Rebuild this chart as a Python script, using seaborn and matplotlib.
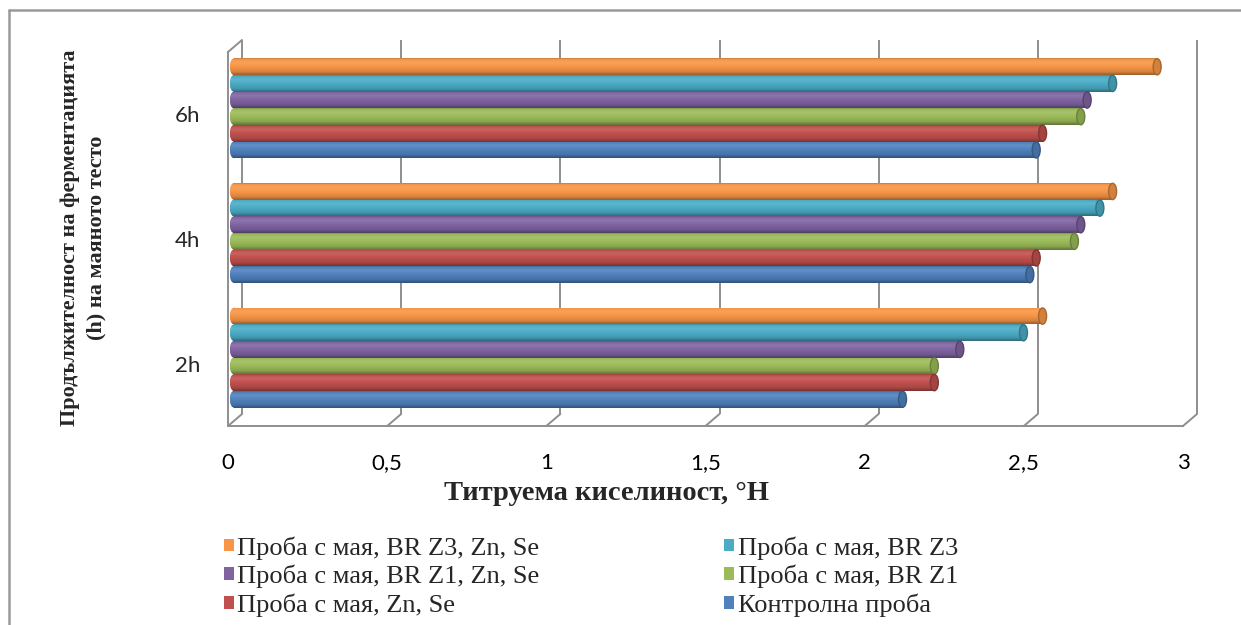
import numpy as np
import pandas as pd
import matplotlib
matplotlib.use("Agg")
import matplotlib.pyplot as plt
import matplotlib.transforms as mtransforms
from matplotlib.patches import Ellipse, Rectangle
from matplotlib.lines import Line2D
from matplotlib.ticker import FuncFormatter
from matplotlib.colors import to_rgb
import seaborn as sns

# ---- data -------------------------------------------------------------
durations = ["6h", "4h", "2h"]
series = [
    "Проба с мая, BR Z3, Zn, Se",
    "Проба с мая, BR Z3",
    "Проба с мая, BR Z1, Zn, Se",
    "Проба с мая, BR Z1",
    "Проба с мая, Zn, Se",
    "Контролна проба",
]
colors = ["#F79646", "#4BACC6", "#8064A2", "#9BBB59", "#C0504D", "#4F81BD"]
acidity_6h = [2.90, 2.76, 2.68, 2.66, 2.54, 2.52]
acidity_4h = [2.76, 2.72, 2.66, 2.64, 2.52, 2.50]
acidity_2h = [2.54, 2.48, 2.28, 2.20, 2.20, 2.10]
x_ticks = [0, 0.5, 1, 1.5, 2, 2.5, 3]

x_title = "Титруема киселиност, °Н"
y_title = "Продължителност на ферментацията\n(h) на маяното тесто"

df = pd.DataFrame({
    "duration": np.repeat(durations, len(series)),
    "series": series * len(durations),
    "acidity": acidity_6h + acidity_4h + acidity_2h,
})

# ---- figure -----------------------------------------------------------
sns.set_style("white")
plt.rcParams["font.family"] = ["Lato", "DejaVu Sans"]

W, H, DPI = 1241, 625, 100
fig = plt.figure(figsize=(W / DPI, H / DPI), dpi=DPI)
fig.patch.set_facecolor("white")

# front plane of the pseudo-3D plot box (pixels)
left_px, right_px, top_px, bottom_px = 228, 1183, 52, 426
ax = fig.add_axes([left_px / W, 1 - bottom_px / H,
                   (right_px - left_px) / W, (bottom_px - top_px) / H])
ax.set_facecolor("none")

sns.barplot(data=df, y="duration", x="acidity", hue="series",
            order=durations, hue_order=series, palette=colors,
            orient="h", width=0.8, legend=False, ax=ax,
            errorbar=None, saturation=1)

ax.set_xlim(0, 3)
ax.set_ylim(2.5, -0.5)

grid_c = "#8e8e8e"
lw_axis = 1.4
px_x = (right_px - left_px) / 3.0   # pixels per acidity unit
px_y = (bottom_px - top_px) / 3.0   # pixels per category

# depth offsets (pixels): bars sit mid-depth, walls at the back
bar_dx, bar_dy = 6, 6
wall_dx, wall_dy = 14, 12
bar_off = ax.transData + mtransforms.ScaledTranslation(bar_dx / DPI, bar_dy / DPI, fig.dpi_scale_trans)
wall_off = ax.transData + mtransforms.ScaledTranslation(wall_dx / DPI, wall_dy / DPI, fig.dpi_scale_trans)

# ---- back wall gridlines and floor edges -------------------------------
wdx, wdy = wall_dx / px_x, wall_dy / px_y
for v in x_ticks:
    ax.plot([v, v], [2.5, -0.5], transform=wall_off, color=grid_c, lw=lw_axis,
            clip_on=False, zorder=0.5, solid_capstyle="butt")
    ax.plot([v, v + wdx], [2.5, 2.5 - wdy], color=grid_c, lw=lw_axis,
            clip_on=False, zorder=0.5)
ax.plot([0, wdx], [-0.5, -0.5 - wdy], color=grid_c, lw=lw_axis, clip_on=False, zorder=0.5)


# ---- cylinder shading ---------------------------------------------------
def shade_column(rgb, n=64):
    t = np.linspace(0, 1, n)
    # brightness profile across a cylinder lit from above
    k = np.interp(t, [0, 0.07, 0.25, 0.5, 0.8, 1.0],
                  [0.80, 1.0, 1.07, 1.0, 0.88, 0.62])
    rgb = np.array(rgb)
    out = np.empty((n, 1, 3))
    for i, kk in enumerate(k):
        if kk >= 1:
            out[i, 0] = rgb + (1 - rgb) * (kk - 1) * 1.6
        else:
            out[i, 0] = rgb * kk
    return np.clip(out, 0, 1)


cap_w = 8 / px_x
for container, col in zip(ax.containers, colors):
    rgb = to_rgb(col)
    grad = shade_column(rgb)
    for bar in container:
        x0, y0 = bar.get_x(), bar.get_y()
        w, h = bar.get_width(), bar.get_height()
        bar.set_transform(bar_off)
        bar.set_clip_on(False)
        bar.set_edgecolor("none")
        bar.set_zorder(2)
        im = ax.imshow(grad, extent=(x0, x0 + w, y0 + h, y0), origin="upper",
                       aspect="auto", transform=bar_off, zorder=2.1,
                       interpolation="bilinear")
        im.set_clip_path(bar)
        # rounded left end
        lcap = Ellipse((x0, y0 + h / 2), cap_w, h, transform=bar_off,
                       facecolor=col, edgecolor="none", zorder=1.9, clip_on=False)
        ax.add_patch(lcap)
        iml = ax.imshow(grad, extent=(x0 - cap_w, x0 + cap_w, y0 + h, y0),
                        origin="upper", aspect="auto", transform=bar_off,
                        zorder=1.95, interpolation="bilinear")
        iml.set_clip_path(lcap)
        # end face at the bar's value
        dark = tuple(c * 0.68 for c in rgb)
        face = tuple(c * 0.85 for c in rgb)
        rcap = Ellipse((x0 + w, y0 + h / 2), cap_w, h * 0.98, transform=bar_off,
                       facecolor=face, edgecolor=dark, lw=1.0, zorder=2.3, clip_on=False)
        ax.add_patch(rcap)

ax.set_xlim(0, 3)
ax.set_ylim(2.5, -0.5)

# ---- axes styling -------------------------------------------------------
for s in ["top", "right"]:
    ax.spines[s].set_visible(False)
for s in ["left", "bottom"]:
    ax.spines[s].set_color(grid_c)
    ax.spines[s].set_linewidth(lw_axis)
    ax.spines[s].set_zorder(0.6)

ax.set_xticks(x_ticks)
ax.xaxis.set_major_formatter(FuncFormatter(lambda v, p: f"{v:g}".replace(".", ",")))
ax.tick_params(axis="x", length=4.5, width=lw_axis, color=grid_c, pad=15,
               labelsize=16, labelcolor="#000000")
ax.set_yticks([0, 1, 2])
ax.set_yticklabels(durations)
ax.set_yticks([-0.5, 0.5, 1.5, 2.5], minor=True)
ax.tick_params(axis="y", which="major", length=0, pad=20, labelsize=16)
ax.tick_params(axis="y", which="minor", length=6, width=lw_axis, color=grid_c)
ax.set_xlabel("")
ax.set_ylabel("")

# ---- titles ----------------------------------------------------------
serif = ["Liberation Serif", "DejaVu Serif"]
fig.text(607 / W, 1 - 493 / H, x_title, ha="center", va="center",
         fontsize=20.5, fontweight="bold", family=serif)
fig.text(83 / W, 1 - 238 / H, y_title, ha="center", va="center",
         rotation=90, fontsize=16, fontweight="bold", family=serif,
         multialignment="center", linespacing=1.45)

# ---- legend (row-wise order, two columns) ------------------------------
handles = [Rectangle((0, 0), 1, 1, facecolor=c, edgecolor="none") for c in colors]
order = [0, 2, 4, 1, 3, 5]
fig.legend([handles[i] for i in order], [series[i] for i in order],
           ncol=2, loc="upper left", bbox_to_anchor=(224 / W, 1 - 536 / H),
           frameon=False, prop={"family": serif, "size": 19},
           handlelength=0.36, handleheight=0.36, handletextpad=0.15,
           labelspacing=0.2, columnspacing=7.0, borderaxespad=0, borderpad=0)

# ---- outer chart frame ----------------------------------------------------
fig.add_artist(Line2D([9 / W, 9 / W], [0, 1 - 10 / H], transform=fig.transFigure,
                      color="#9a9a9a", lw=1.8))
fig.add_artist(Line2D([9 / W, 1], [1 - 10 / H, 1 - 10 / H], transform=fig.transFigure,
                      color="#9a9a9a", lw=1.8))

fig.savefig("out.png", dpi=DPI, facecolor="white")
